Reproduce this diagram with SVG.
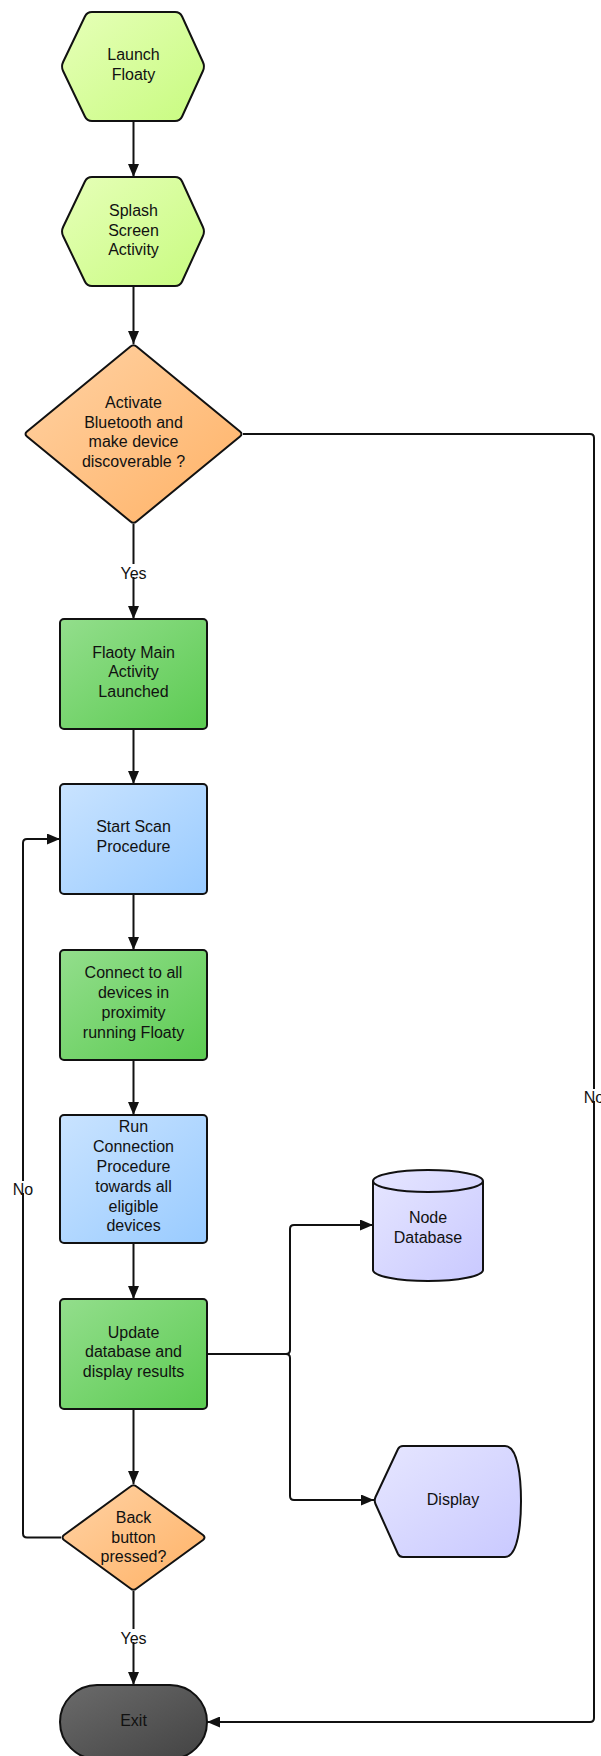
<svg xmlns="http://www.w3.org/2000/svg" width="601" height="1756" viewBox="0 0 601 1756">
  <style>
    .shape { stroke: #111; stroke-width: 2; stroke-linejoin: round; }
    .conn { fill: none; stroke: #111; stroke-width: 2; }
    .lbl { font-family: "Liberation Sans", Arial, sans-serif; font-size: 16px; fill: #111; text-anchor: middle; }
  </style>
  <defs>
    <linearGradient id="gHex" x1="0" y1="0" x2="1" y2="1">
      <stop offset="0" stop-color="#e6ffb8"/>
      <stop offset="1" stop-color="#c8fb80"/>
    </linearGradient>
    <linearGradient id="gOrange" x1="0" y1="0" x2="1" y2="1">
      <stop offset="0" stop-color="#ffd2a4"/>
      <stop offset="1" stop-color="#ffb266"/>
    </linearGradient>
    <linearGradient id="gGreen" x1="0" y1="0" x2="1" y2="1">
      <stop offset="0" stop-color="#93de8c"/>
      <stop offset="1" stop-color="#5ccb52"/>
    </linearGradient>
    <linearGradient id="gBlue" x1="0" y1="0" x2="1" y2="1">
      <stop offset="0" stop-color="#c9e3ff"/>
      <stop offset="1" stop-color="#99cbff"/>
    </linearGradient>
    <linearGradient id="gLav" x1="0" y1="0" x2="1" y2="1">
      <stop offset="0" stop-color="#e6e6ff"/>
      <stop offset="1" stop-color="#c9c9ff"/>
    </linearGradient>
    <linearGradient id="gDark" x1="0" y1="0" x2="1" y2="1">
      <stop offset="0" stop-color="#6b6b6b"/>
      <stop offset="1" stop-color="#434343"/>
    </linearGradient>
    <marker id="arrow" markerUnits="userSpaceOnUse" markerWidth="14" markerHeight="11" refX="13" refY="5.5" orient="auto">
      <path d="M0,0 L13,5.5 L0,11 Z" fill="#111"/>
    </marker>
    <!-- hexagon with softened corners, reused for the two start nodes -->
    <path id="hex" d="M92,12 L175,12 Q180,12 182.1,16.5 L202.9,62 Q205,66.5 202.9,71 L182.1,116.5 Q180,121 175,121 L92,121 Q87,121 84.9,116.5 L63.1,71 Q61,66.5 63.1,62 L84.9,16.5 Q87,12 92,12 Z"/>
  </defs>

  <rect width="601" height="1756" fill="#ffffff"/>

  <!-- connectors -->
  <g id="connectors">
    <path class="conn" d="M133.5,121 V177" marker-end="url(#arrow)"/>
    <path class="conn" d="M133.5,287 V344" marker-end="url(#arrow)"/>
    <path class="conn" d="M133.5,524 V619" marker-end="url(#arrow)"/>
    <path class="conn" d="M243,434 H590 Q594,434 594,438 V1718 Q594,1722 590,1722 H207" marker-end="url(#arrow)"/>
    <path class="conn" d="M133.5,729 V784" marker-end="url(#arrow)"/>
    <path class="conn" d="M133.5,894 V950" marker-end="url(#arrow)"/>
    <path class="conn" d="M133.5,1060 V1115" marker-end="url(#arrow)"/>
    <path class="conn" d="M133.5,1243 V1299" marker-end="url(#arrow)"/>
    <path class="conn" d="M133.5,1409 V1484" marker-end="url(#arrow)"/>
    <path class="conn" d="M133.5,1591 V1685" marker-end="url(#arrow)"/>
    <path class="conn" d="M61,1537.5 H27 Q23,1537.5 23,1533.5 V843 Q23,839 27,839 H60" marker-end="url(#arrow)"/>
    <path class="conn" d="M207,1354 H286 Q290,1354 290,1350 V1229 Q290,1225 294,1225 H373" marker-end="url(#arrow)"/>
    <path class="conn" d="M207,1354 H286 Q290,1354 290,1358 V1496 Q290,1500 294,1500 H374" marker-end="url(#arrow)"/>

    <!-- connector labels -->
    <rect x="120" y="564" width="27" height="13" fill="#ffffff"/>
    <text class="lbl" x="133.5" y="579">Yes</text>
    <rect x="120" y="1629" width="27" height="13" fill="#ffffff"/>
    <text class="lbl" x="133.5" y="1644">Yes</text>
    <rect x="13" y="1181" width="20" height="12" fill="#ffffff"/>
    <text class="lbl" x="23" y="1195">No</text>
    <rect x="584" y="1089" width="20" height="12" fill="#ffffff"/>
    <text class="lbl" x="594" y="1103">No</text>
  </g>

  <g id="launch">
    <use href="#hex" class="shape" fill="url(#gHex)"/>
    <text class="lbl" x="133.5" y="60">Launch</text>
    <text class="lbl" x="133.5" y="80">Floaty</text>
  </g>

  <g id="splash">
    <use href="#hex" class="shape" fill="url(#gHex)" transform="translate(0,165)"/>
    <text class="lbl" x="133.5" y="216">Splash</text>
    <text class="lbl" x="133.5" y="236">Screen</text>
    <text class="lbl" x="133.5" y="255">Activity</text>
  </g>

  <g id="bluetooth">
    <path class="shape" fill="url(#gOrange)" d="M130.5,346.5 Q133.5,344 136.5,346.5 L240,431.5 Q243,434 240,436.5 L136.5,521.5 Q133.5,524 130.5,521.5 L27,436.5 Q24,434 27,431.5 Z"/>
    <text class="lbl" x="133.5" y="408">Activate</text>
    <text class="lbl" x="133.5" y="428">Bluetooth and</text>
    <text class="lbl" x="133.5" y="447">make device</text>
    <text class="lbl" x="133.5" y="467">discoverable ?</text>
  </g>

  <g id="main-activity">
    <rect class="shape" fill="url(#gGreen)" x="60" y="619" width="147" height="110" rx="4"/>
    <text class="lbl" x="133.5" y="658">Flaoty Main</text>
    <text class="lbl" x="133.5" y="677">Activity</text>
    <text class="lbl" x="133.5" y="697">Launched</text>
  </g>

  <g id="start-scan">
    <rect class="shape" fill="url(#gBlue)" x="60" y="784" width="147" height="110" rx="4"/>
    <text class="lbl" x="133.5" y="832">Start Scan</text>
    <text class="lbl" x="133.5" y="852">Procedure</text>
  </g>

  <g id="connect">
    <rect class="shape" fill="url(#gGreen)" x="60" y="950" width="147" height="110" rx="4"/>
    <text class="lbl" x="133.5" y="978">Connect to all</text>
    <text class="lbl" x="133.5" y="998">devices in</text>
    <text class="lbl" x="133.5" y="1018">proximity</text>
    <text class="lbl" x="133.5" y="1038">running Floaty</text>
  </g>

  <g id="run-connection">
    <rect class="shape" fill="url(#gBlue)" x="60" y="1115" width="147" height="128" rx="4"/>
    <text class="lbl" x="133.5" y="1132">Run</text>
    <text class="lbl" x="133.5" y="1152">Connection</text>
    <text class="lbl" x="133.5" y="1172">Procedure</text>
    <text class="lbl" x="133.5" y="1192">towards all</text>
    <text class="lbl" x="133.5" y="1212">eligible</text>
    <text class="lbl" x="133.5" y="1231">devices</text>
  </g>

  <g id="update">
    <rect class="shape" fill="url(#gGreen)" x="60" y="1299" width="147" height="110" rx="4"/>
    <text class="lbl" x="133.5" y="1338">Update</text>
    <text class="lbl" x="133.5" y="1357">database and</text>
    <text class="lbl" x="133.5" y="1377">display results</text>
  </g>

  <g id="back-button">
    <path class="shape" fill="url(#gOrange)" d="M130.5,1486.5 Q133.5,1484 136.5,1486.5 L203,1535 Q206,1537.5 203,1540 L136.5,1588.5 Q133.5,1591 130.5,1588.5 L64,1540 Q61,1537.5 64,1535 Z"/>
    <text class="lbl" x="133.5" y="1523">Back</text>
    <text class="lbl" x="133.5" y="1543">button</text>
    <text class="lbl" x="133.5" y="1562">pressed?</text>
  </g>

  <g id="exit">
    <rect class="shape" fill="url(#gDark)" x="60" y="1685" width="147" height="74" rx="37"/>
    <text class="lbl" x="133.5" y="1726">Exit</text>
  </g>

  <g id="node-database">
    <path class="shape" fill="url(#gLav)" d="M373,1181 V1270 A55,11 0 0 0 483,1270 V1181 A55,11 0 0 0 373,1181 Z"/>
    <path class="shape" fill="none" d="M373,1181 A55,11 0 0 0 483,1181"/>
    <text class="lbl" x="428" y="1223">Node</text>
    <text class="lbl" x="428" y="1243">Database</text>
  </g>

  <g id="display">
    <path class="shape" fill="url(#gLav)" d="M375.5,1497 L398,1449 Q399.5,1446 403,1446 H505 C518,1446 521,1478 521,1501 C521,1524 518,1557 505,1557 H403 Q399.5,1557 398,1554 L375.5,1504 Q374,1500.5 375.5,1497 Z"/>
    <text class="lbl" x="453" y="1505">Display</text>
  </g>
</svg>
